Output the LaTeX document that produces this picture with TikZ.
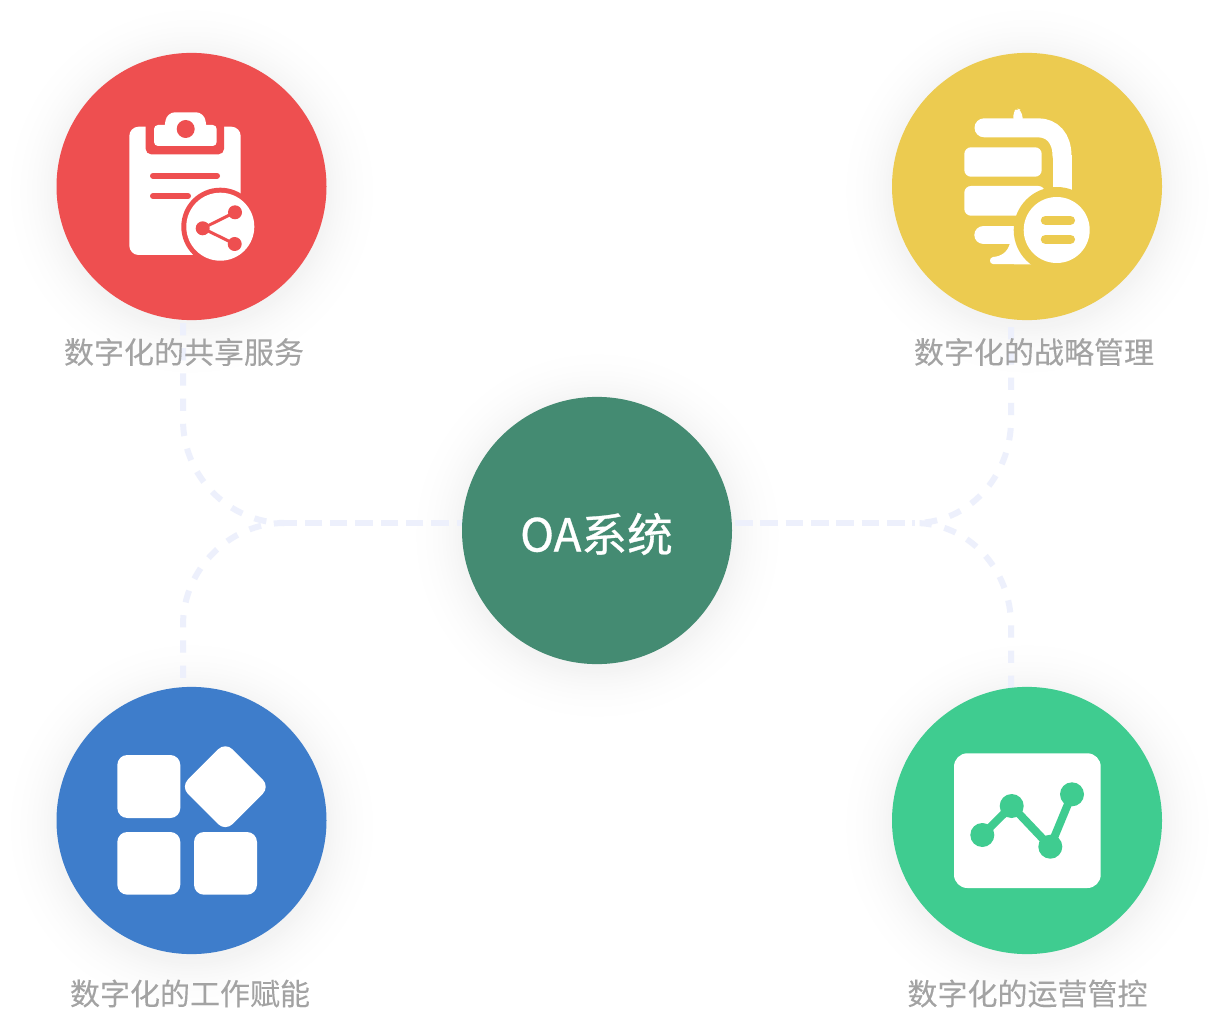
\documentclass[tikz,border=0pt]{standalone}
\usetikzlibrary{shapes.geometric}
\usepackage{fontspec}
\setmainfont[FakeBold=0.12]{Noto Sans CJK SC}
\newfontfamily\hubfont[FakeBold=0.7]{Noto Sans CJK SC}
\definecolor{cRed}{HTML}{EE4F50}
\definecolor{cYellow}{HTML}{ECCB50}
\definecolor{cBlue}{HTML}{3E7DCB}
\definecolor{cGreen}{HTML}{3FCC90}
\definecolor{cHub}{HTML}{448B72}
\definecolor{cLine}{HTML}{EDF0FC}
\definecolor{cText}{HTML}{A3A3A3}
\pgfdeclareradialshading{halo}{\pgfpoint{0bp}{0bp}}{
  color(0bp)=(black!5);
  color(17.8bp)=(black!4.5);
  color(19bp)=(black!3);
  color(20.5bp)=(black!1.7);
  color(22bp)=(black!0.8);
  color(23.5bp)=(black!0.25);
  color(25bp)=(white);
  color(50bp)=(white)}
\tikzset{
  x=0.75pt,y=-0.75pt,
  disc/.style={ellipse,fill=#1,draw=none,minimum width=202.5pt,minimum height=200.4pt,inner sep=0pt},
  captxt/.style={text=cText,font=\fontsize{22.5pt}{27pt}\selectfont,inner sep=0pt,anchor=center},
  linkH/.style={draw=cLine,line width=4.5pt,dash pattern=on 13.1pt off 5.9pt},
  linkV/.style={draw=cLine,line width=4.5pt,dash pattern=on 9.2pt off 9.7pt},
  lw/.style={line width=#1*0.75pt},
  haloshade/.style={shading=halo,draw=none}
}
\begin{document}
\begin{tikzpicture}
\useasboundingbox (0,0) rectangle (1220,1016);
\fill[white] (0,0) rectangle (1220,1016);
% shadows
\shade[haloshade] (191.5,191) circle (190);
\shade[haloshade] (1027,191) circle (190);
\shade[haloshade] (191.5,826) circle (190);
\shade[haloshade] (1027,826) circle (190);
\shade[haloshade] (597,535) circle (190);
% connector end points
\coordinate (hubL) at (474,523);
\coordinate (hubR) at (709.7,523);
\coordinate (jL) at (284,523);
\coordinate (jR) at (915,523);
\coordinate (tlEnd) at (183,323);
\coordinate (blEnd) at (183,703);
\coordinate (trEnd) at (1011,302);
\coordinate (brEnd) at (1011,688);
% connectors
\draw[linkH] (hubL) -- (jL);
\draw[linkH] (hubR) -- (jR);
\draw[linkV] (tlEnd) -- (183,420) .. controls (183,477) and (230,523) .. (jL);
\draw[linkV] (blEnd) -- (183,625) .. controls (183,569) and (230,523) .. (jL);
\draw[linkV] (trEnd) -- (1011,420) .. controls (1011,477) and (968,523) .. (jR);
\draw[linkV] (brEnd) -- (1011,625) .. controls (1011,569) and (968,523) .. (jR);
% circles
\node[disc=cRed] (share) at (191.5,186.5) {};
\node[disc=cYellow] (strategy) at (1027,186.5) {};
\node[disc=cBlue] (work) at (191.5,820.5) {};
\node[disc=cGreen] (ops) at (1027,820.5) {};
\node[disc=cHub] (hub) at (597,530.5) {};
\node[text=white,font=\hubfont\fontsize{34.3pt}{40pt}\selectfont,inner sep=0pt] (hubText) at (596.5,534) {OA系统};
% captions
\node[captxt] (capShare) at (184,352) {数字化的共享服务};
\node[captxt] (capStrategy) at (1034,352) {数字化的战略管理};
\node[captxt] (capWork) at (190,993.5) {数字化的工作赋能};
\node[captxt] (capOps) at (1027.5,993.5) {数字化的运营管控};
% red icon
\fill[white,rounded corners=7pt] (129.3,126.7) rectangle (240.7,255);
\fill[cRed,rounded corners=4pt] (145.7,112) rectangle (224,154.3);
\fill[white,rounded corners=3pt] (154,125) rectangle (216.7,146);
\fill[white,rounded corners=6pt] (163,135) -- (167,112.3) -- (204,112.3) -- (208,135) -- cycle;
\fill[cRed] (185.7,129) circle (9);
\draw[cRed,lw=6,line cap=round] (153,175.7) -- (217,175.7);
\draw[cRed,lw=6,line cap=round] (153,196) -- (188,196);
\fill[cRed] (220.3,226.7) circle (39);
\fill[white] (220.3,226.7) circle (34);
\draw[cRed,lw=3] (235,212.3) -- (202.7,228.3) -- (234.7,244);
\fill[cRed] (202.7,228.3) circle (7);
\fill[cRed] (235,212.3) circle (7);
\fill[cRed] (234.7,244) circle (7);
% yellow icon
\fill[white,rounded corners=3pt] (1013.3,122) -- (1013.3,112) -- (1017,108.3) -- (1021,110) -- (1023.5,122) -- cycle;
\draw[white,lw=19,line cap=round] (984,127.8) -- (1038,127.8) .. controls (1052,127.8) and (1062,138) .. (1062,156);
\draw[white,lw=19] (1062,155) -- (1062,196);
\fill[white,rounded corners=5pt] (964.3,147.3) rectangle (1041.7,176.7);
\fill[white,rounded corners=5pt] (964.3,186) rectangle (1045,215.7);
\draw[white,lw=18.6,line cap=round] (983.6,235) -- (1025,235);
\fill[white] (1010,243) .. controls (1008,252) and (1001,256.5) .. (993,257) .. controls (989,257.5) and (989,264) .. (993,264) -- (1035,264.5) -- (1035,243) -- cycle;
\fill[cYellow] (1056.7,230) circle (43);
\fill[white] (1056.7,230) circle (33);
\draw[cYellow,lw=9.5,line cap=round] (1045.5,220.3) -- (1070.3,220.3);
\draw[cYellow,lw=9.5,line cap=round] (1045.5,239.3) -- (1070.3,239.3);
% blue icon
\fill[white,rounded corners=7.5pt] (117.3,755) rectangle (180.3,818);
\fill[white,rounded corners=7.5pt] (117.3,832) rectangle (180.3,894.7);
\fill[white,rounded corners=7.5pt] (194,832) rectangle (257,894.7);
\fill[white,rounded corners=7.5pt,rotate around={45:(225.3,786.7)}] (193.8,755.2) rectangle (256.8,818.2);
% green icon
\fill[white,rounded corners=10pt] (954,753.3) rectangle (1100.7,888);
\draw[cGreen,lw=8] (982.3,835) -- (1011.7,806) -- (1050.3,846.7) -- (1072,794.3);
\fill[cGreen] (982.3,835) circle (12);
\fill[cGreen] (1011.7,806) circle (12);
\fill[cGreen] (1050.3,846.7) circle (12);
\fill[cGreen] (1072,794.3) circle (12);
\end{tikzpicture}
\end{document}
